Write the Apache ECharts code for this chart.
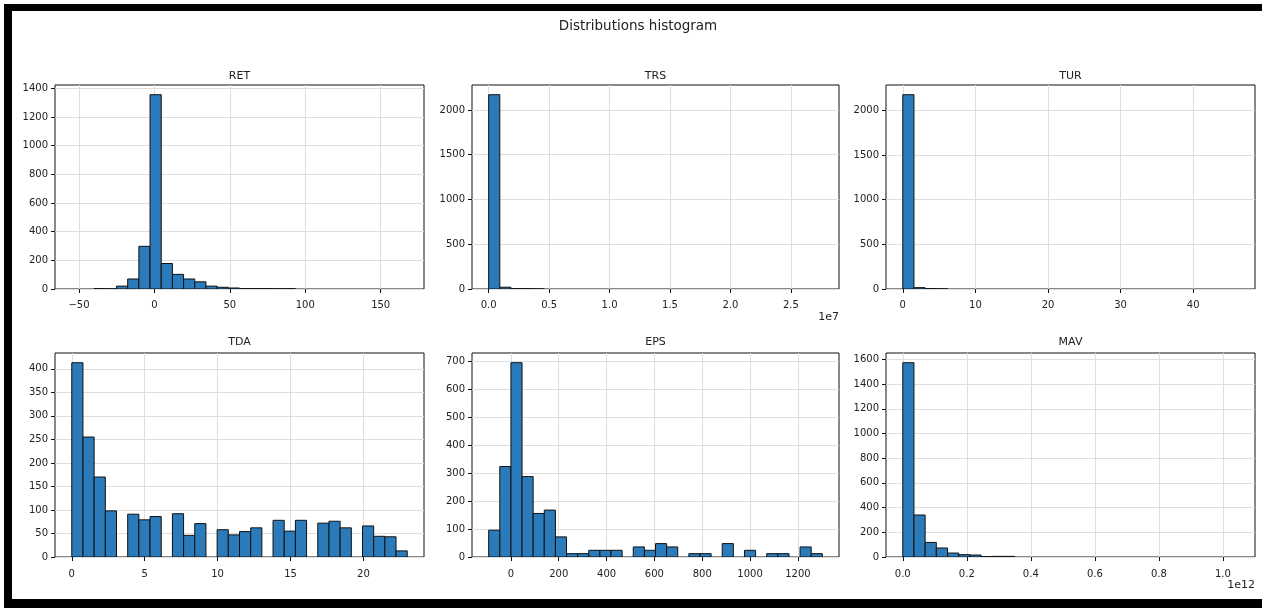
<!DOCTYPE html>
<html>
<head>
<meta charset="utf-8">
<script src="https://cdn.jsdelivr.net/npm/echarts@6.0.0/dist/echarts.min.js"></script>
<style>
html,body{margin:0;padding:0;background:#fff;}
#c{width:1262px;height:608px;}
</style>
</head>
<body>
<div id="c"></div>
<script>
// ---- data ----
const mainTitle = 'Distributions histogram';
const panelTitles = ['RET', 'TRS', 'TUR', 'TDA', 'EPS', 'MAV'];

// data range of each histogram [min, max] (TRS in 1e7 units, MAV in 1e12 units)
const RET_range = [-54.8, 167.6];
const TRS_range = [0, 2.76];
const TUR_range = [0, 46.2];
const TDA_range = [0, 23];
const EPS_range = [-92.8, 1302];
const MAV_range = [0, 1.048];

// counts per bin (30 bins each)
const RET_counts = [0, 0, 3, 1, 20, 70, 298, 1356, 178, 102, 70, 50, 20, 12, 7, 2, 3, 3, 1, 2, 0, 0, 0, 0, 0, 0, 0, 0, 0, 0];
const TRS_counts = [2170, 20, 4, 3, 1, 0, 0, 0, 0, 0, 0, 0, 0, 0, 0, 0, 0, 0, 0, 0, 0, 0, 0, 0, 0, 0, 0, 0, 0, 0];
const TUR_counts = [2175, 15, 5, 2, 0, 0, 0, 0, 0, 0, 0, 0, 0, 0, 0, 0, 0, 0, 0, 0, 0, 0, 0, 0, 0, 0, 0, 0, 0, 0];
const TDA_counts = [413, 255, 170, 98, 0, 91, 79, 86, 0, 92, 46, 71, 0, 58, 47, 54, 62, 0, 78, 55, 78, 0, 72, 76, 62, 0, 66, 44, 43, 13];
const EPS_counts = [96, 324, 696, 288, 156, 168, 72, 12, 12, 24, 24, 24, 0, 36, 24, 48, 36, 0, 12, 12, 0, 48, 0, 24, 0, 12, 12, 0, 36, 12];
const MAV_counts = [1573, 340, 118, 73, 32, 19, 16, 3, 5, 5, 0, 0, 0, 0, 0, 0, 0, 0, 0, 0, 0, 0, 0, 0, 0, 0, 0, 0, 0, 0];

// tick labels
const RET_xticks = [-50, 0, 50, 100, 150];
const TRS_xticks = [0, 0.5, 1.0, 1.5, 2.0, 2.5];
const TUR_xticks = [0, 10, 20, 30, 40];
const TDA_xticks = [0, 5, 10, 15, 20];
const EPS_xticks = [0, 200, 400, 600, 800, 1000, 1200];
const MAV_xticks = [0, 0.2, 0.4, 0.6, 0.8, 1.0];

const RET_yticks = [0, 200, 400, 600, 800, 1000, 1200, 1400];
const TRS_yticks = [0, 500, 1000, 1500, 2000];
const TUR_yticks = [0, 500, 1000, 1500, 2000];
const TDA_yticks = [0, 50, 100, 150, 200, 250, 300, 350, 400];
const EPS_yticks = [0, 100, 200, 300, 400, 500, 600, 700];
const MAV_yticks = [0, 200, 400, 600, 800, 1000, 1200, 1400, 1600];

const offsetLabels = ['', '1e7', '', '', '', '1e12'];
const xDecimals = [0, 1, 0, 0, 0, 1];

// ---- build chart ----
const ranges = [RET_range, TRS_range, TUR_range, TDA_range, EPS_range, MAV_range];
const counts = [RET_counts, TRS_counts, TUR_counts, TDA_counts, EPS_counts, MAV_counts];
const xticks = [RET_xticks, TRS_xticks, TUR_xticks, TDA_xticks, EPS_xticks, MAV_xticks];
const yticks = [RET_yticks, TRS_yticks, TUR_yticks, TDA_yticks, EPS_yticks, MAV_yticks];

const FONT = '"DejaVu Sans", sans-serif';
const cols = [{left: 55, width: 369}, {left: 472, width: 367}, {left: 886, width: 369}];
const rows = [{top: 85, height: 204, titleY: 76, xMargin: 11}, {top: 353, height: 204, titleY: 342, xMargin: 12}];
const BAR = '#2b7bba';

const grids = [], xAxes = [], yAxes = [], series = [], graphics = [];

for (let i = 0; i < 6; i++) {
  const r = rows[Math.floor(i / 3)], c = cols[i % 3];
  grids.push({
    left: c.left, top: r.top, width: c.width, height: r.height,
    show: true, borderColor: '#111', borderWidth: 1, backgroundColor: 'transparent',
    outerBoundsMode: 'none', containLabel: false
  });
  const [lo, hi] = ranges[i];
  const span = hi - lo;
  const n = counts[i].length;
  const w = span / n;
  const data = counts[i].map((v, k) => [lo + k * w, lo + (k + 1) * w, v]);
  const ymax = Math.max.apply(null, counts[i]) * 1.05;
  const dec = xDecimals[i];
  xAxes.push({
    type: 'value', gridIndex: i,
    min: lo - 0.05 * span, max: hi + 0.05 * span,
    axisLine: {show: false, onZero: false},
    axisTick: {show: true, length: 4, lineStyle: {color: '#111', width: 1}, customValues: xticks[i]},
    axisLabel: {show: true, margin: r.xMargin, color: '#222', fontFamily: FONT, fontSize: 10,
      customValues: xticks[i], formatter: v => Number(v).toFixed(dec).replace('-', '\u2212')},
    splitLine: {show: true, lineStyle: {color: '#dedede', width: 1}}
  });
  yAxes.push({
    type: 'value', gridIndex: i,
    min: 0, max: ymax,
    axisLine: {show: false, onZero: false},
    axisTick: {show: true, length: 4, lineStyle: {color: '#111', width: 1}, customValues: yticks[i]},
    axisLabel: {show: true, margin: 7, color: '#222', fontFamily: FONT, fontSize: 10,
      customValues: yticks[i], formatter: v => String(Math.round(v))},
    splitLine: {show: true, lineStyle: {color: '#dedede', width: 1}}
  });
  series.push({
    type: 'custom', xAxisIndex: i, yAxisIndex: i,
    data: data,
    encode: {x: [0, 1], y: 2},
    clip: true,
    renderItem: function (params, api) {
      const v = api.value(2);
      if (!v) return null;
      const p0 = api.coord([api.value(0), 0]);
      const p1 = api.coord([api.value(1), v]);
      return {
        type: 'rect',
        shape: {x: p0[0], y: p1[1], width: p1[0] - p0[0], height: p0[1] - p1[1]},
        style: {fill: BAR, stroke: '#111', lineWidth: 1}
      };
    }
  });
  graphics.push({
    type: 'text', x: c.left + c.width / 2, y: r.titleY,
    style: {text: panelTitles[i], font: '11px ' + FONT, fill: '#222', textAlign: 'center', textVerticalAlign: 'middle'}
  });
  if (offsetLabels[i]) {
    graphics.push({
      type: 'text', x: c.left + c.width, y: r.top + r.height + 28,
      style: {text: offsetLabels[i], font: '11px ' + FONT, fill: '#222', textAlign: 'right', textVerticalAlign: 'middle'}
    });
  }
}

graphics.push({
  type: 'text', x: 638, y: 26,
  style: {text: mainTitle, font: '13.5px ' + FONT, fill: '#222', textAlign: 'center', textVerticalAlign: 'middle'}
});
// black picture frame
graphics.push({type: 'rect', shape: {x: 4, y: 4, width: 1258, height: 7}, style: {fill: '#000'}, z: 100});
graphics.push({type: 'rect', shape: {x: 4, y: 4, width: 8, height: 604}, style: {fill: '#000'}, z: 100});
graphics.push({type: 'rect', shape: {x: 4, y: 599, width: 1258, height: 9}, style: {fill: '#000'}, z: 100});

const chart = echarts.init(document.getElementById('c'), null, {renderer: 'canvas'});
chart.setOption({
  animation: false,
  backgroundColor: '#fff',
  grid: grids,
  xAxis: xAxes,
  yAxis: yAxes,
  series: series,
  graphic: graphics
});
</script>
</body>
</html>
